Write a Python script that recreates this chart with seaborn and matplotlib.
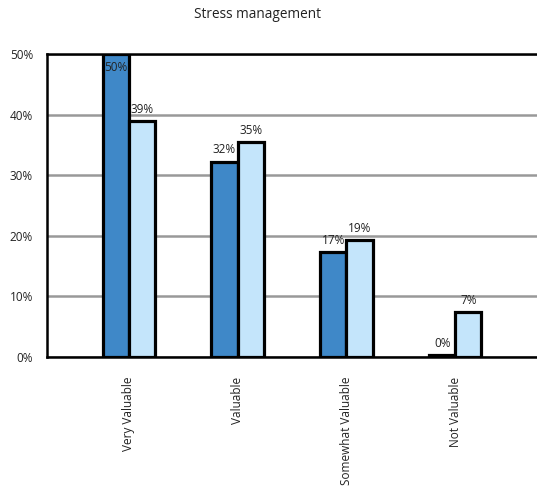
import pandas as pd
import numpy as np
import matplotlib
matplotlib.use('Agg')
import matplotlib.pyplot as plt
import seaborn as sns

# chart data
categories = ['Very Valuable', 'Valuable', 'Somewhat Valuable', 'Not Valuable']
series_a = [50.0, 32.2, 17.3, 0.3]
series_b = [38.9, 35.4, 19.3, 7.4]
labels_a = ['50%', '32%', '17%', '0%']
labels_b = ['39%', '35%', '19%', '7%']
yticks = [0, 10, 20, 30, 40, 50]
ytick_labels = ['0%', '10%', '20%', '30%', '40%', '50%']

df = pd.DataFrame({
    'Category': categories * 2,
    'Value': series_a + series_b,
    'Group': ['A'] * 4 + ['B'] * 4,
})

sns.set_style('white')
plt.rcParams['font.family'] = ['Open Sans', 'DejaVu Sans']

fig = plt.figure(figsize=(5.37, 4.91), dpi=100)
ax = fig.add_axes([47 / 537, 1 - 357 / 491, 1 - 47 / 537, (357 - 54) / 491])

sns.barplot(data=df, x='Category', y='Value', hue='Group',
            palette=['#3F88C8', '#C4E5FB'], saturation=1, width=0.48,
            edgecolor='black', linewidth=2.3, legend=False, ax=ax, zorder=3)

ax.set_xlim(-0.75, 3.75)
ax.set_ylim(0, 50)
ax.set_yticks(yticks)
ax.set_yticklabels(ytick_labels, fontsize=8.5, color='#222222')
ax.tick_params(axis='y', length=0, pad=10)
ax.tick_params(axis='x', length=0, pad=14)
ax.set_xticks(range(len(categories)))
ax.set_xticklabels(categories, rotation=90, fontsize=8.5, color='#222222')
ax.set_xlabel('')
ax.set_ylabel('')

ax.yaxis.grid(True, color='#999999', linewidth=1.8, zorder=0)
ax.set_axisbelow(True)
for s in ['top', 'left', 'bottom']:
    ax.spines[s].set_color('black')
    ax.spines[s].set_linewidth(1.8)
ax.spines['right'].set_visible(False)

# value labels
for cont, labs in zip(ax.containers, [labels_a, labels_b]):
    for bar, lab in zip(cont, labs):
        h = bar.get_height()
        xc = bar.get_x() + bar.get_width() / 2
        if h >= 48:
            ax.text(xc, h - 1.2, lab, ha='center', va='top', fontsize=8.5, color='#222222', zorder=5)
        else:
            ax.text(xc, h + 0.9, lab, ha='center', va='bottom', fontsize=8.5, color='#222222', zorder=5)

fig.text(257 / 537, 1 - 14 / 491, 'Stress management', ha='center', va='center',
         fontsize=9.8, color='#222222')

fig.savefig('out.png', dpi=100)
